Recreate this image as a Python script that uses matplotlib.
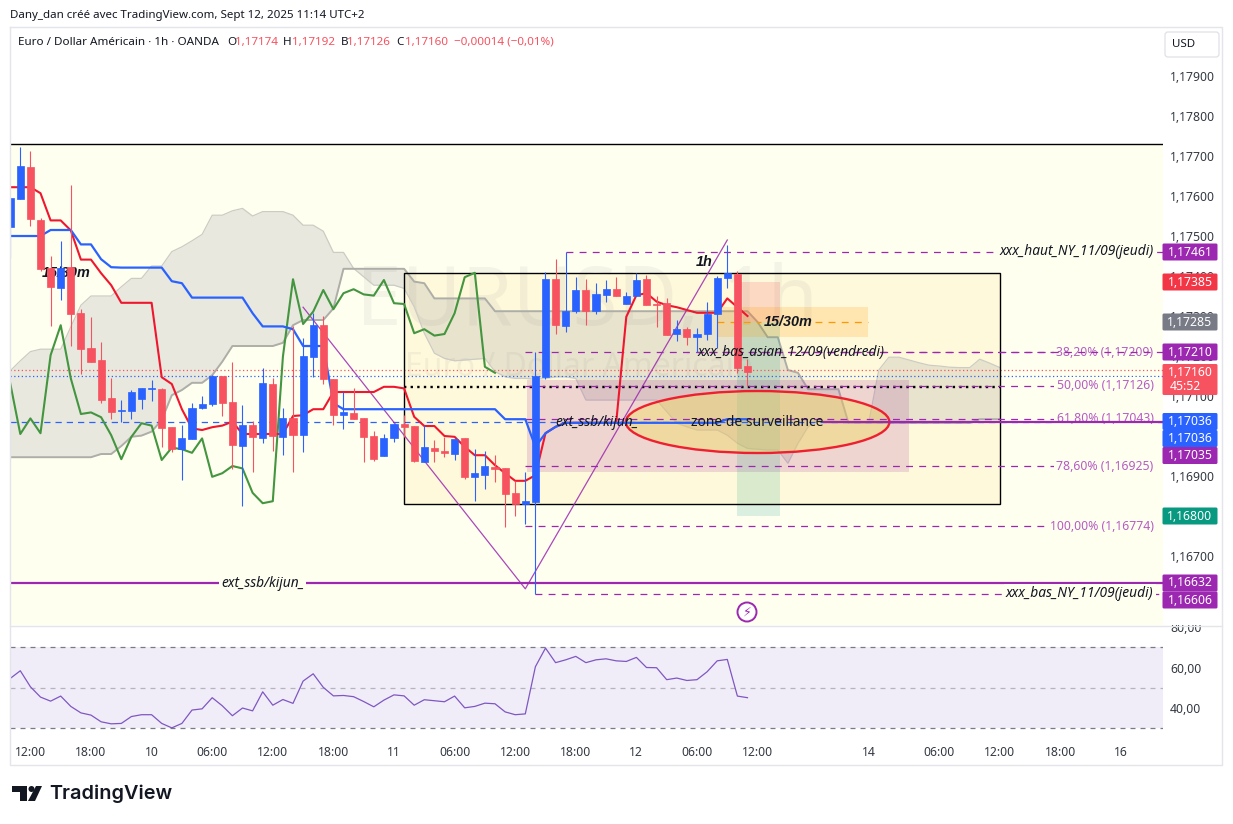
import matplotlib
matplotlib.use("Agg")
import matplotlib.pyplot as plt
from matplotlib.patches import Rectangle, Ellipse, Circle, Polygon, FancyBboxPatch

plt.rcParams['font.family'] = ['Noto Sans', 'DejaVu Sans']

W, H = 1233, 824
BLUE = '#2962ff'
RED = '#f7525f'
LINE_RED = '#f0162e'
PURPLE = '#9c27b0'
GREEN = '#43953f'
YELLOW = '#fffff0'
DARK = '#131722'

# hourly bars, first one is Sept 9 10:00 (bar 0 = 12:00)
first_bar = -2
opens = [1.17523, 1.17593, 1.17672, 1.17540, 1.17421, 1.17371, 1.17422, 1.17307, 1.17219, 1.17190,
         1.17095, 1.17062, 1.17063, 1.17093, 1.17118, 1.17117, 1.17022, 1.16967, 1.16993, 1.17070,
         1.17080, 1.17150, 1.17085, 1.16976, 1.17027, 1.16996, 1.17130, 1.16998, 1.17045, 1.17003,
         1.17198, 1.17277, 1.17142, 1.17053, 1.17057, 1.17045, 1.17000, 1.16951, 1.16996, 1.17030,
         1.17025, 1.16936, 1.16969, 1.16962, 1.16956, 1.16994, 1.16898, 1.16902, 1.16923, 1.16919,
         1.16857, 1.16829, 1.16836, 1.17148, 1.17392, 1.17276, 1.17312, 1.17365, 1.17312, 1.17353,
         1.17367, 1.17331, 1.17351, 1.17392, 1.17330, 1.17332, 1.17255, 1.17267, 1.17248, 1.17255,
         1.17306, 1.17395, 1.17405, 1.17174]
highs = [1.17594, 1.17722, 1.17712, 1.17544, 1.17450, 1.17487, 1.17627, 1.17317, 1.17297, 1.17235,
         1.17145, 1.17090, 1.17115, 1.17120, 1.17140, 1.17120, 1.17022, 1.17027, 1.17082, 1.17100,
         1.17152, 1.17150, 1.17185, 1.17077, 1.17037, 1.17169, 1.17145, 1.17070, 1.17276, 1.17244,
         1.17308, 1.17300, 1.17142, 1.17111, 1.17119, 1.17045, 1.17012, 1.17005, 1.17030, 1.17052,
         1.17025, 1.17027, 1.16990, 1.16998, 1.16992, 1.16994, 1.16967, 1.16962, 1.16952, 1.16919,
         1.16888, 1.16910, 1.17210, 1.17409, 1.17442, 1.17461, 1.17398, 1.17392, 1.17382, 1.17390,
         1.17398, 1.17360, 1.17407, 1.17402, 1.17350, 1.17344, 1.17290, 1.17272, 1.17269, 1.17335,
         1.17400, 1.17477, 1.17412, 1.17192]
lows = [1.17444, 1.17593, 1.17525, 1.17413, 1.17275, 1.17340, 1.17225, 1.17155, 1.17186, 1.17083,
        1.17042, 1.17036, 1.17042, 1.17067, 1.17088, 1.16973, 1.16961, 1.16890, 1.16993, 1.17068,
        1.17075, 1.17050, 1.16917, 1.16825, 1.16911, 1.16983, 1.16962, 1.16952, 1.16911, 1.16960,
        1.17148, 1.17130, 1.17027, 1.17018, 1.17043, 1.16936, 1.16938, 1.16951, 1.16986, 1.16998,
        1.16936, 1.16934, 1.16936, 1.16948, 1.16940, 1.16892, 1.16838, 1.16868, 1.16886, 1.16773,
        1.16800, 1.16780, 1.16606, 1.17142, 1.17255, 1.17261, 1.17307, 1.17277, 1.17305, 1.17336,
        1.17351, 1.17330, 1.17350, 1.17328, 1.17273, 1.17252, 1.17237, 1.17227, 1.17210, 1.17240,
        1.17219, 1.17371, 1.17158, 1.17126]
closes = [1.17594, 1.17675, 1.17542, 1.17417, 1.17373, 1.17420, 1.17306, 1.17218, 1.17186, 1.17091,
          1.17061, 1.17064, 1.17110, 1.17120, 1.17121, 1.17021, 1.16968, 1.16995, 1.17070, 1.17080,
          1.17150, 1.17082, 1.16978, 1.17027, 1.16998, 1.17132, 1.17001, 1.17045, 1.17003, 1.17200,
          1.17277, 1.17143, 1.17053, 1.17059, 1.17043, 1.16998, 1.16942, 1.16995, 1.17030, 1.17023,
          1.16938, 1.16972, 1.16963, 1.16957, 1.16992, 1.16898, 1.16907, 1.16925, 1.16918, 1.16856,
          1.16829, 1.16837, 1.17150, 1.17392, 1.17278, 1.17312, 1.17365, 1.17312, 1.17355, 1.17367,
          1.17351, 1.17350, 1.17389, 1.17328, 1.17328, 1.17252, 1.17267, 1.17248, 1.17255, 1.17305,
          1.17394, 1.17407, 1.17171, 1.17160]

tenkan = [1.17622, 1.17622, 1.17622, 1.17607, 1.17539, 1.17539, 1.17514, 1.17441, 1.17441, 1.17407,
          1.17377, 1.17333, 1.17333, 1.17333, 1.17333, 1.17147, 1.17130, 1.17067, 1.17019, 1.17015,
          1.17022, 1.17026, 1.17036, 1.17005, 1.17005, 1.17005, 1.17005, 1.17005, 1.17050, 1.17052,
          1.17067, 1.17067, 1.17110, 1.17110, 1.17110, 1.17110, 1.17110, 1.17123, 1.17123, 1.17119,
          1.17048, 1.17025, 1.17025, 1.17000, 1.16998, 1.16973, 1.16952, 1.16952, 1.16927, 1.16907,
          1.16888, 1.16888, 1.16902, 1.17007, 1.17023, 1.17033, 1.17033, 1.17033, 1.17033, 1.17033,
          1.17033, 1.17298, 1.17352, 1.17357, 1.17336, 1.17327, 1.17322, 1.17315, 1.17308, 1.17308,
          1.17308, 1.17344, 1.17322, 1.17300]
kijun = [1.17500, 1.17500, 1.17500, 1.17500, 1.17515, 1.17515, 1.17515, 1.17479, 1.17479, 1.17442,
         1.17422, 1.17421, 1.17421, 1.17421, 1.17421, 1.17421, 1.17387, 1.17382, 1.17346, 1.17346,
         1.17346, 1.17346, 1.17346, 1.17346, 1.17307, 1.17274, 1.17274, 1.17274, 1.17267, 1.17225,
         1.17225, 1.17225, 1.17082, 1.17067, 1.17067, 1.17067, 1.17067, 1.17067, 1.17067, 1.17067,
         1.17067, 1.17067, 1.17067, 1.17067, 1.17067, 1.17067, 1.17067, 1.17067, 1.17067, 1.17042,
         1.17042, 1.17042, 1.16973, 1.17007, 1.17023, 1.17033, 1.17033, 1.17033, 1.17033, 1.17033,
         1.17033, 1.17033, 1.17033, 1.17033, 1.17033, 1.17033, 1.17033, 1.17033, 1.17033, 1.17033,
         1.17033, 1.17042, 1.17042, 1.17042]
chikou = [1.17132, 1.17005, 1.17044, 1.17007, 1.17202, 1.17277, 1.17144, 1.17055, 1.17059, 1.17047,
          1.17002, 1.16942, 1.16998, 1.17032, 1.17026, 1.16940, 1.16971, 1.16967, 1.16958, 1.16994,
          1.16898, 1.16907, 1.16925, 1.16919, 1.16858, 1.16832, 1.16837, 1.17198, 1.17392, 1.17280,
          1.17311, 1.17365, 1.17317, 1.17357, 1.17367, 1.17354, 1.17351, 1.17390, 1.17332, 1.17330,
          1.17257, 1.17267, 1.17251, 1.17255, 1.17307, 1.17397, 1.17408, 1.17173, 1.17158]
span_a = [1.17163, 1.17188, 1.17211, 1.17217, 1.17217, 1.17217, 1.17273, 1.17327, 1.17350, 1.17350,
          1.17350, 1.17373, 1.17394, 1.17394, 1.17425, 1.17425, 1.17461, 1.17473, 1.17488, 1.17504,
          1.17552, 1.17552, 1.17563, 1.17569, 1.17550, 1.17561, 1.17561, 1.17561, 1.17552, 1.17527,
          1.17527, 1.17512, 1.17459, 1.17459, 1.17419, 1.17398, 1.17377, 1.17377, 1.17377, 1.17369,
          1.17323, 1.17257, 1.17207, 1.17194, 1.17188, 1.17190, 1.17192, 1.17194, 1.17161, 1.17148,
          1.17144, 1.17144, 1.17142, 1.17144, 1.17148, 1.17148, 1.17144, 1.17090, 1.17090, 1.17090,
          1.17090, 1.17090, 1.17090, 1.17090, 1.17090, 1.17061, 1.17032, 1.17023, 1.17015, 1.17015,
          1.17015, 1.17002, 1.16982, 1.16969, 1.16967, 1.16965, 1.16965, 1.16932, 1.16982, 1.17023,
          1.17040, 1.17033, 1.17033, 1.17033, 1.17033, 1.17033, 1.17165, 1.17197, 1.17197, 1.17190,
          1.17183, 1.17177, 1.17175, 1.17172, 1.17171, 1.17171, 1.17192, 1.17182, 1.17171]
span_b = [1.16947, 1.16947, 1.16947, 1.16947, 1.16947, 1.16947, 1.16947, 1.16947, 1.16947, 1.16955,
          1.16955, 1.16975, 1.16998, 1.17001, 1.17011, 1.17040, 1.17102, 1.17115, 1.17133, 1.17133,
          1.17152, 1.17186, 1.17225, 1.17225, 1.17225, 1.17225, 1.17225, 1.17233, 1.17277, 1.17290,
          1.17290, 1.17290, 1.17319, 1.17418, 1.17418, 1.17418, 1.17418, 1.17418, 1.17418, 1.17418,
          1.17386, 1.17382, 1.17344, 1.17344, 1.17344, 1.17344, 1.17344, 1.17344, 1.17312, 1.17312,
          1.17312, 1.17312, 1.17312, 1.17312, 1.17312, 1.17312, 1.17312, 1.17312, 1.17312, 1.17312,
          1.17312, 1.17312, 1.17312, 1.17312, 1.17312, 1.17312, 1.17312, 1.17312, 1.17312, 1.17312,
          1.17312, 1.17312, 1.17312, 1.17312, 1.17285, 1.17247, 1.17247, 1.17165, 1.17158, 1.17117,
          1.17117, 1.17117, 1.17117, 1.17033, 1.17033, 1.17033, 1.17033, 1.17033, 1.17033, 1.17033,
          1.17033, 1.17033, 1.17033, 1.17033, 1.17033, 1.17033, 1.17042, 1.17042, 1.17042]
rsi = [54.6, 58.4, 50.5, 45.4, 43.4, 45.9, 40.8, 37.6, 36.5, 33.2,
       32.2, 32.4, 35.8, 36.7, 36.7, 32.4, 30.2, 32.4, 39.0, 39.6,
       45.1, 41.1, 36.2, 40.0, 38.6, 48.0, 41.4, 44.2, 42.3, 53.3,
       56.9, 50.2, 46.0, 46.2, 45.6, 43.2, 40.6, 43.9, 46.5, 46.0,
       41.4, 44.1, 43.6, 43.1, 45.9, 40.1, 40.8, 42.4, 42.1, 38.1,
       36.7, 37.1, 60.4, 69.6, 62.4, 63.8, 65.5, 62.4, 63.8, 64.3,
       63.3, 63.0, 65.0, 60.0, 59.9, 54.0, 54.8, 53.6, 54.0, 57.9,
       63.3, 64.0, 45.9, 45.1]

# drawn zigzag (bar, price)
zigzag_bars = [27, 49, 69]
zigzag_prices = [1.17322, 1.16618, 1.17490]

fib_levels = [1.17209, 1.17126, 1.17043, 1.16925, 1.16774]
fib_labels = ['38,20% (1,17209)', '50,00% (1,17126)', '61,80% (1,17043)',
              '78,60% (1,16925)', '100,00% (1,16774)']

price_ticks = [1.179, 1.178, 1.177, 1.176, 1.175, 1.174, 1.173, 1.172, 1.171, 1.170, 1.169, 1.167]
time_ticks = [0, 6, 12, 18, 24, 30, 36, 42, 48, 54, 60, 66, 72, 83, 90, 96, 102, 108]
time_labels = ['12:00', '18:00', '10', '06:00', '12:00', '18:00', '11', '06:00', '12:00', '18:00',
               '12', '06:00', '12:00', '14', '06:00', '12:00', '18:00', '16']

# price scale tags: text, colour, centre in pixels (they get pushed apart like on the site)
tag_text = ['1,17461', '1,17385', '1,17285', '1,17210', '1,17036', '1,17036', '1,17035',
            '1,16800', '1,16632', '1,16606']
tag_color = [PURPLE, '#f23645', '#787b86', PURPLE, BLUE, BLUE, PURPLE, '#089981', PURPLE, PURPLE]
tag_y = [252, 282, 322, 352, 421.5, 438.5, 455.5, 516, 583, 600]


def axes_box(x0, y0, x1, y1):
    return [x0 / W, 1 - y1 / H, (x1 - x0) / W, (y1 - y0) / H]


fig = plt.figure(figsize=(W / 100, H / 100), dpi=100, facecolor='white')
ax = fig.add_axes(axes_box(10, 28, 1163, 625.5))
ax_rsi = fig.add_axes(axes_box(10, 626, 1163, 738))

xmin, xmax = -2.02, 112.14
ax.set_xlim(xmin, xmax)
ax.set_ylim(1.165263, 1.1802)
ax.set_xticks([])
for s in ax.spines.values():
    s.set_visible(False)
ax.yaxis.tick_right()
ax.set_yticks(price_ticks)
ax.set_yticklabels([('%.5f' % p).replace('.', ',') for p in price_ticks], fontsize=8.8, color='#333842')
ax.tick_params(axis='y', length=0, pad=5)

# background zones
ax.axhspan(1.165263, 1.1773, color=YELLOW, lw=0, zorder=0)
ax.axhline(1.1773, color='black', lw=1, zorder=1)
ax.add_patch(Rectangle((37, 1.1683), 59, 0.005775, fc='#fff9db', ec='none', zorder=1))

# watermark
ax.text(32.2, 1.17278, 'EURUSD, 1h', fontsize=59, color='#787b86', alpha=0.085, va='baseline', zorder=1.5)
ax.text(37.1, 1.17150, 'Euro / Dollar Américain', fontsize=23, color='#787b86', alpha=0.085,
        va='baseline', zorder=1.5)

# cloud
bars_span = list(range(first_bar, first_bar + len(span_a)))
ax.fill_between(bars_span, span_a, span_b, color=(120 / 255, 123 / 255, 134 / 255), alpha=0.17, lw=0, zorder=2)
ax.plot(bars_span, span_a, color='#ccccc4', lw=0.9, zorder=2.1)
ax.plot(bars_span, span_b, color='#aeaea8', lw=1.4, zorder=2.1)

# rectangles drawn on the chart
ax.add_patch(Rectangle((49.2, 1.16911), 37.8, 0.00228, fc=(170 / 255, 69 / 255, 165 / 255), alpha=0.2, ec='none', zorder=2.2))
ax.add_patch(Rectangle((70, 1.17285), 4.2, 0.001, fc='#f23645', alpha=0.16, ec='none', zorder=2.2))
ax.add_patch(Rectangle((70, 1.168), 4.2, 0.00485, fc='#089981', alpha=0.15, ec='none', zorder=2.2))
ax.add_patch(Rectangle((68, 1.172475), 14.9, 0.00075, fc='#ff9800', alpha=0.2, ec='none', zorder=2.2))
ax.add_patch(Rectangle((37, 1.1683), 59, 0.005775, fc='none', ec='black', lw=1, zorder=3))
ax.add_patch(Ellipse((72, 1.17035), 26.1, 0.00155, fc=(245 / 255, 225 / 255, 88 / 255), ec='none', alpha=0.4, zorder=2.3))
ax.add_patch(Ellipse((72, 1.17035), 26.1, 0.00155, fc='none', ec='#ee2030', lw=1.7, zorder=5))

# horizontal levels
dash = (0, (5.5, 5))
ax.axhline(1.17036, color=BLUE, lw=0.9, ls=(0, (5, 4)), zorder=2.5)
ax.axhline(1.17165, color=RED, lw=0.9, ls=(0, (1, 2)), zorder=2.5)
ax.axhline(1.17149, color=BLUE, lw=0.9, ls=(0, (1, 2)), zorder=2.5)
ax.plot([37, 96], [1.17122, 1.17122], color='black', lw=1.7, ls=(0, (1, 1.8)), zorder=3)
ax.axhline(1.16632, color=PURPLE, lw=1.6, zorder=3)
ax.plot([78.5, xmax], [1.17035, 1.17035], color=PURPLE, lw=1.6, zorder=6.5, solid_capstyle='butt')
ax.plot([68, 72.3], [1.17285, 1.17285], color='#ff9800', lw=0.9, ls=dash, zorder=3)
ax.plot([77.7, 82.9], [1.17285, 1.17285], color='#ff9800', lw=0.9, ls=dash, zorder=3)
ax.plot(zigzag_bars, zigzag_prices, color=PURPLE, lw=0.9, alpha=0.85, zorder=3)

for lvl, lab in zip(fib_levels, fib_labels):
    ax.plot([49, 111.2], [lvl, lvl], color=PURPLE, lw=0.9, ls=dash, zorder=3.5)
    ax.text(111.2, lvl, lab, ha='right', va='center', fontsize=8.8, color='#b55cc4', zorder=3.6,
            bbox=dict(fc=YELLOW, ec='none', pad=1.5))
ax.plot([66, xmax], [1.17210, 1.17210], color=PURPLE, lw=0.9, ls=dash, zorder=4)
ax.plot([53, xmax], [1.17461, 1.17461], color=PURPLE, lw=0.9, ls=dash, zorder=3.5)
ax.plot([50, xmax], [1.16606, 1.16606], color=PURPLE, lw=0.9, ls=dash, zorder=3.5)

# ichimoku lines
bars_line = list(range(first_bar, first_bar + len(tenkan)))
ax.plot(range(first_bar, first_bar + len(chikou)), chikou, color=GREEN, lw=1.5, zorder=6)
ax.plot(bars_line, tenkan, color=LINE_RED, lw=1.5, zorder=6)
ax.plot(bars_line, kijun, color=BLUE, lw=1.6, zorder=7)

# text under the candles
bold_ital = dict(style='italic', fontweight='bold', fontsize=10.4, color=DARK, va='center',
                 family=['Liberation Sans', 'DejaVu Sans'])
ax.text(3.5, 1.174075, '15/30m', ha='center', zorder=7.1, **bold_ital)

# candles
for i in range(len(opens)):
    b = first_bar + i
    c = BLUE if closes[i] >= opens[i] else RED
    ax.vlines(b, lows[i], highs[i], color=c, lw=0.8, zorder=8)
    ax.bar(b, abs(closes[i] - opens[i]), bottom=min(opens[i], closes[i]), width=0.7, color=c,
           edgecolor=c, lw=0.5, zorder=8.1)

# labels on the drawings
ital = dict(style='italic', color=DARK, va='center', fontsize=9.9, zorder=9)
ax.text(111.2, 1.17461, 'xxx_haut_NY_11/09(jeudi)', ha='right',
        bbox=dict(fc=YELLOW, ec='none', pad=1.5), **ital)
ax.text(111.2, 1.16606, 'xxx_bas_NY_11/09(jeudi)', ha='right',
        bbox=dict(fc=YELLOW, ec='none', pad=1.5), **ital)
ax.text(23, 1.16632, 'ext_ssb/kijun_', ha='center', bbox=dict(fc=YELLOW, ec='none', pad=1.5), **ital)
ax.text(56.1, 1.17035, 'ext_ssb/kijun_', ha='center', **ital)
ax.text(84.6, 1.17210, 'xxx_bas_asian_12/09(vendredi)', ha='right', **ital)
ax.text(66.7, 1.17435, '1h', ha='center', zorder=9, **bold_ital)
ax.text(72.6, 1.17285, '15/30m', ha='left', zorder=9, **bold_ital)
ax.text(72, 1.17035, 'zone de surveillance', color=DARK, fontsize=10, ha='center', va='center', zorder=9)

# rsi pane
ax_rsi.set_xlim(xmin, xmax)
ax_rsi.set_ylim(25.2, 80.5)
for s in ax_rsi.spines.values():
    s.set_visible(False)
ax_rsi.axhspan(30, 70, color='#7e57c2', alpha=0.1, lw=0)
ax_rsi.axhline(70, color='#787b86', lw=0.9, ls=(0, (4, 4)))
ax_rsi.axhline(30, color='#787b86', lw=0.9, ls=(0, (4, 4)))
ax_rsi.axhline(50, color='#787b86', lw=0.9, ls=(0, (4, 4)), alpha=0.5)
ax_rsi.plot(bars_line, rsi, color='#7e57c2', lw=0.9)
ax_rsi.yaxis.tick_right()
ax_rsi.set_yticks([40, 60, 80])
ax_rsi.set_yticklabels(['40,00', '60,00', '80,00'], fontsize=8.8, color='#333842')
ax_rsi.tick_params(axis='y', length=0, pad=5)
ax_rsi.set_xticks(time_ticks)
ax_rsi.set_xticklabels(time_labels, fontsize=8.8, color='#333842')
ax_rsi.tick_params(axis='x', length=0, pad=6)
for lab in ax_rsi.get_yticklabels():
    if lab.get_text() == '80,00':
        lab.set_clip_box(plt.matplotlib.transforms.Bbox([[1163, 0], [W, H - 625]]))
        lab.set_clip_on(True)

# page furniture, in pixels
page = fig.add_axes([0, 0, 1, 1], facecolor='none')
page.set_xlim(0, W)
page.set_ylim(H, 0)
page.axis('off')
edge = '#e3e5ea'
page.plot([10, 1222, 1222, 10, 10], [27, 27, 765, 765, 27], color=edge, lw=1)
page.plot([10, 1222], [625.5, 625.5], color=edge, lw=1)
page.add_patch(FancyBboxPatch((1165, 32), 54, 25, boxstyle='round,pad=0,rounding_size=3', fc='white', ec='#dfe1e6', lw=0.9))
page.text(1184, 44.5, 'USD', fontsize=8.3, color=DARK, ha='center', va='center')
page.text(10, 15, 'Dany_dan créé avec TradingView.com, Sept 12, 2025 11:14 UTC+2', fontsize=8.3,
          color=DARK, va='center')
page.text(18, 42, 'Euro / Dollar Américain · 1h · OANDA', fontsize=8.4, color=DARK, va='center')
for x, s, c in [(227, 'O', DARK), (235, '1,17174', RED), (283, 'H', DARK), (292, '1,17192', RED),
                (341, 'B', DARK), (346.5, '1,17126', RED), (396, 'C', DARK), (405, '1,17160', RED),
                (453.5, '−0,00014 (−0,01%)', RED)]:
    page.text(x, 42, s, fontsize=8.4, color=c, va='center')

for txt, c, y in zip(tag_text, tag_color, tag_y):
    page.add_patch(FancyBboxPatch((1162.5, y - 8.5), 55, 17, boxstyle='round,pad=0,rounding_size=1.5', fc=c, ec='none'))
    page.text(1190, y, txt, fontsize=8.8, color='white', fontweight='bold', ha='center', va='center')
page.add_patch(FancyBboxPatch((1162.5, 364), 55, 31, boxstyle='round,pad=0,rounding_size=1.5', fc=RED, ec='none'))
page.text(1190, 372, '1,17160', fontsize=8.8, color='white', fontweight='bold', ha='center', va='center')
page.text(1170, 386, '45:52', fontsize=8.8, color='white', ha='left', va='center')

# alert icon
page.add_patch(Circle((747, 612), 9.5, fc='white', ec=PURPLE, lw=1.4))
page.text(747, 612, '⚡', fontsize=9, color=PURPLE, ha='center', va='center', family=['DejaVu Sans'])

# logo
page.add_patch(Polygon([(12, 786), (27, 786), (27, 801), (20, 801), (20, 792), (12, 792)], fc='#131722', ec='none'))
page.add_patch(Circle((31.5, 789), 3, fc='#131722', ec='none'))
page.add_patch(Polygon([(35, 801), (28, 801), (36, 786), (42, 786)], fc='#131722', ec='none'))
page.text(49, 794, 'TradingView', fontsize=14.3, fontweight='semibold', color='#131722', va='center',
          family=['Inter', 'DejaVu Sans'])

fig.savefig('out.png', dpi=100)
